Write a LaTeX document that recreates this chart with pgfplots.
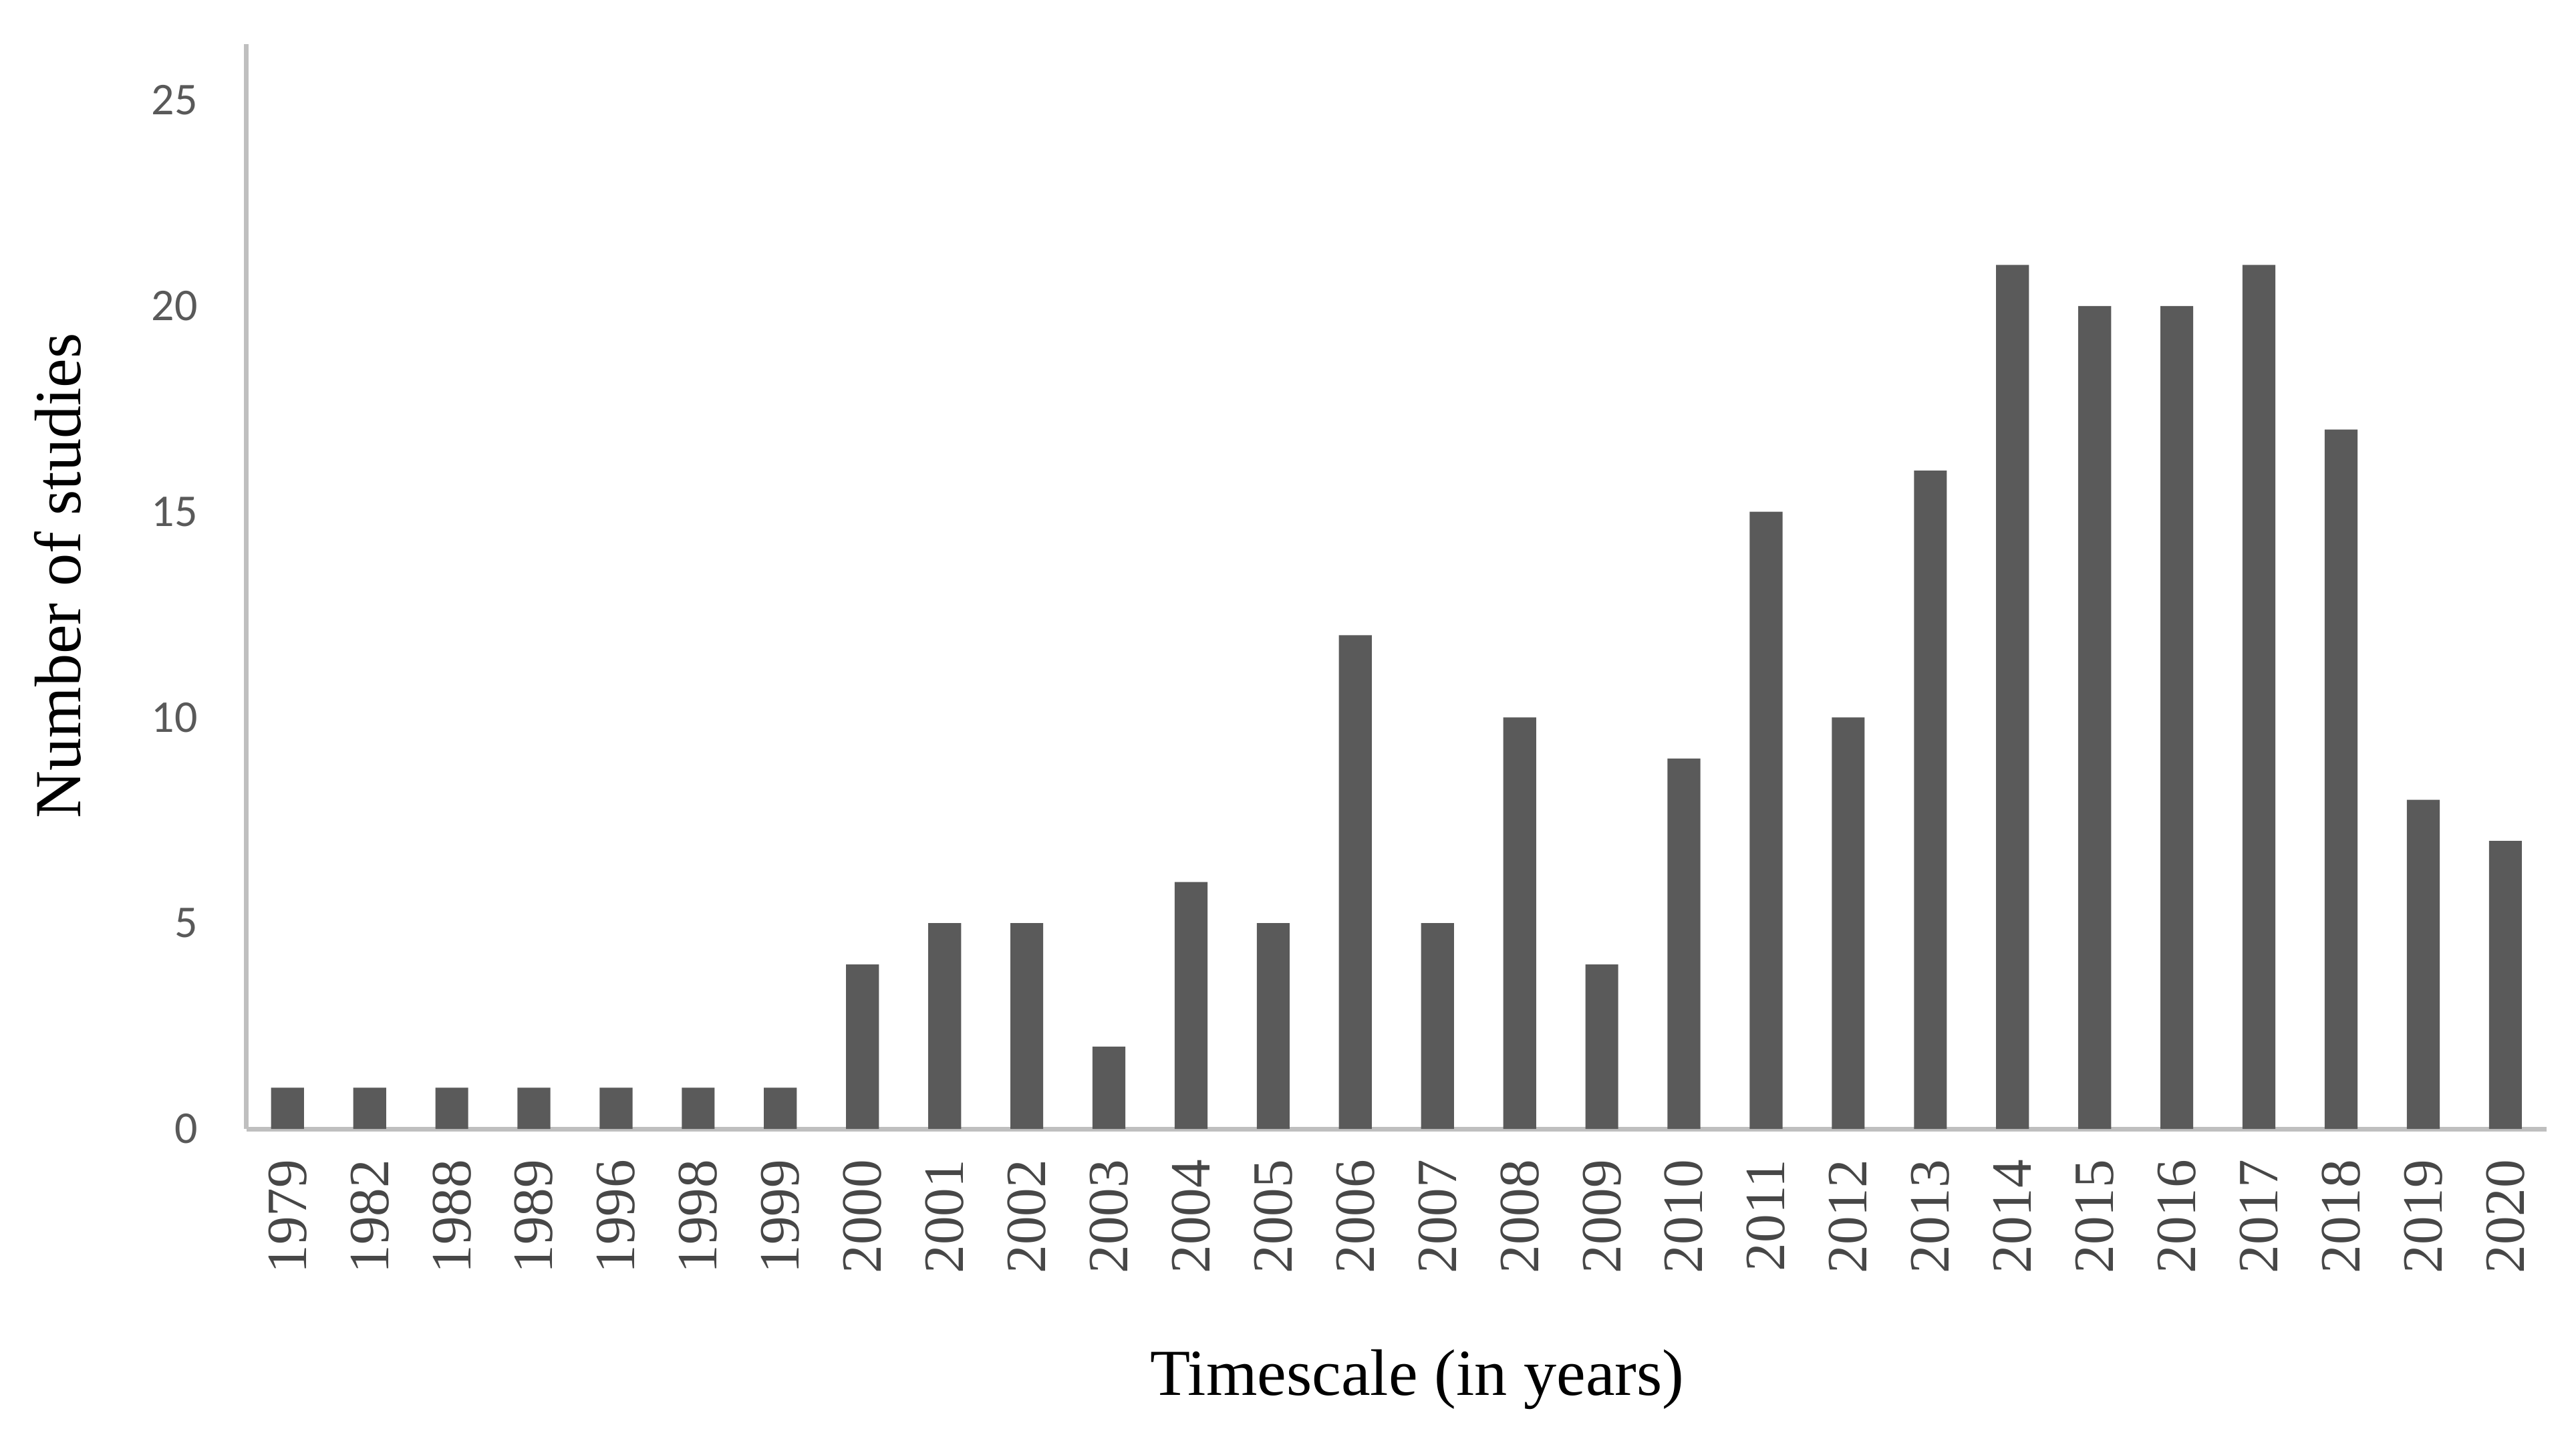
\documentclass[border=0pt]{standalone}
\usepackage{pgfplots}
\pgfplotsset{compat=1.18}
\usepackage{fontspec}
\setmainfont{Liberation Serif}
\newfontfamily\carlito{Carlito}
\definecolor{barc}{HTML}{5A5A5A}
\definecolor{axc}{HTML}{BFBFBF}
\definecolor{tickc}{HTML}{595959}
\pgfplotstableread{
x y
0 1
1 1
2 1
3 1
4 1
5 1
6 1
7 4
8 5
9 5
10 2
11 6
12 5
13 12
14 5
15 10
16 4
17 9
18 15
19 10
20 16
21 21
22 20
23 20
24 21
25 17
26 8
27 7
}\datatable
\begin{document}
\begin{tikzpicture}
\path[use as bounding box] (-45pt,-55.8pt) rectangle (425.4pt,206.1pt);
\begin{axis}[
  at={(0,0)}, anchor=south west,
  scale only axis,
  width=420pt, height=198pt,
  xmin=-0.5, xmax=27.5,
  ymin=0, ymax=26.36,
  axis x line*=bottom, axis y line*=left,
  axis line style={draw=axc, line width=0.85pt, -},
  major tick length=0pt,
  xtick=data,
  xticklabels={1979,1982,1988,1989,1996,1998,1999,2000,2001,2002,2003,2004,2005,2006,2007,2008,2009,2010,2011,2012,2013,2014,2015,2016,2017,2018,2019,2020},
  xticklabel style={rotate=90, anchor=east, font=\fontsize{10.4}{12}\selectfont, text=black!72, inner sep=0pt},
  xticklabel shift=5.4pt,
  ytick={0,5,10,15,20,25},
  yticklabels={0,5,10,15,20,25},
  yticklabel style={font=\carlito\fontsize{8.3}{10}\selectfont, text=tickc, inner sep=0pt},
  yticklabel shift=8.7pt,
  xlabel={Timescale (in years)},
  ylabel={Number of studies},
  every axis x label/.style={at={(axis description cs:0.509,0)}, anchor=center, yshift=-45.8pt, font=\fontsize{12}{14}\selectfont},
  every axis y label/.style={at={(axis description cs:0,0.5)}, anchor=center, rotate=90, yshift=34.5pt, xshift=2pt, font=\fontsize{12}{14}\selectfont},
  clip=false,
]
\addplot[ybar, bar width=6pt, fill=barc, draw=none] table[x=x, y=y] {\datatable};
\end{axis}
\end{tikzpicture}
\end{document}
